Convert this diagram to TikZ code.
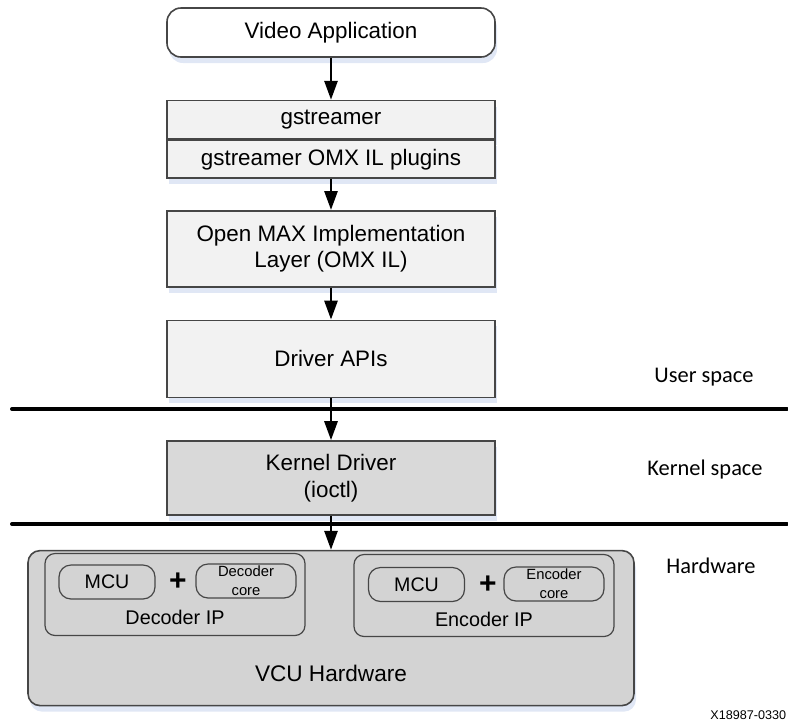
\documentclass[tikz,border=0pt]{standalone}
\usepackage{fontspec}
\setmainfont{Liberation Sans}
\newfontfamily\califont{Carlito}
\usepackage{tikz}
\usetikzlibrary{positioning,arrows.meta,shadows}
\definecolor{edgecolor}{RGB}{70,70,70}
\definecolor{swcolor}{RGB}{242,242,242}
\definecolor{kncolor}{RGB}{217,217,217}
\definecolor{hwcolor}{RGB}{211,211,211}
\definecolor{shadecolor}{RGB}{224,231,245}

\begin{document}
\begin{tikzpicture}[x=0.5pt,y=-0.5pt,
shade/.style={drop shadow={shadow xshift=1pt,shadow yshift=-3pt,fill=shadecolor,opacity=1}},
layer/.style={draw=edgecolor,line width=0.8pt,fill=swcolor,minimum width=164pt,align=center,inner sep=1pt,font=\fontsize{11.2}{13.2}\selectfont,shade},
hwbox/.style={draw=edgecolor,line width=0.8pt,fill=hwcolor,rounded corners=6pt,shade},
ipbox/.style={draw=edgecolor,line width=0.6pt,fill=hwcolor,rounded corners=5pt,minimum width=130pt,minimum height=41pt},
unitbox/.style={draw=edgecolor,line width=0.6pt,fill=hwcolor,rounded corners=6pt,minimum width=48pt,minimum height=17pt,inner sep=1pt,font=\fontsize{9.8}{11}\selectfont},
corebox/.style={unitbox,minimum width=50pt,align=center,font=\fontsize{7.4}{9.4}\selectfont},
plus/.style={font=\bfseries\fontsize{15}{16}\selectfont,inner sep=0pt},
iplabel/.style={font=\fontsize{9.9}{11}\selectfont,inner sep=1pt},
spacelabel/.style={font=\califont\fontsize{11.2}{13}\selectfont,inner sep=1pt},
sep/.style={line width=2pt,line cap=round},
arr/.style={-{Triangle[length=9.5pt,width=6.5pt]},line width=1.4pt}]
\useasboundingbox (0,0) rectangle (788,725);
% software stack
\node[layer,rounded corners=7pt,fill=white,minimum height=24.5pt] (va) at (331,32.5) {Video Application};
\node[layer,minimum height=19pt,below=21pt of va] (gst) {gstreamer};
\node[layer,minimum height=19pt,below=0pt of gst] (plg) {gstreamer OMX IL plugins};
\node[layer,minimum height=38pt,below=15.5pt of plg] (omx) {Open MAX Implementation\\Layer (OMX IL)};
\node[layer,minimum height=38.5pt,below=16pt of omx] (api) {Driver APIs};
\node[layer,fill=kncolor,minimum height=37pt,below=21pt of api] (kd) {Kernel Driver\\(ioctl)};
% hardware
\node[hwbox,minimum width=303pt,minimum height=77.5pt,below=17pt of kd] (vcu) {};
\node[font=\fontsize{11.3}{13}\selectfont,inner sep=1pt] (vcul) at (331,673) {VCU Hardware};
\node[ipbox] (decip) at (175,594.5) {};
\node[ipbox] (encip) at (484,595.5) {};
\node[unitbox] (mcua) at (107,582) {MCU};
\node[plus] (plusa) at (178,582) {+};
\node[corebox] (deccore) at (246,581) {Decoder\\core};
\node[unitbox] (mcub) at (416.5,584.5) {MCU};
\node[plus] (plusb) at (488,585) {+};
\node[corebox] (enccore) at (554,584) {Encoder\\core};
\node[iplabel] (decipl) at (175,617) {Decoder IP};
\node[iplabel] (encipl) at (484,619) {Encoder IP};
% spaces
\draw[sep] (12,409) -- (787,409);
\draw[sep] (12,524) -- (787,524);
\node[spacelabel] (us) at (704,377) {User space};
\node[spacelabel] (ks) at (705,470) {Kernel space};
\node[spacelabel] (hw) at (711,566) {Hardware};
\node[font=\fontsize{6.3}{7}\selectfont,anchor=west,inner sep=0pt] (fig) at (710,715) {X18987-0330};
\draw[arr](va)--(gst); \draw[arr](plg)--(omx); \draw[arr](omx)--(api); \draw[arr](api)--(kd); \draw[arr](kd)--(vcu);
\end{tikzpicture}
\end{document}
